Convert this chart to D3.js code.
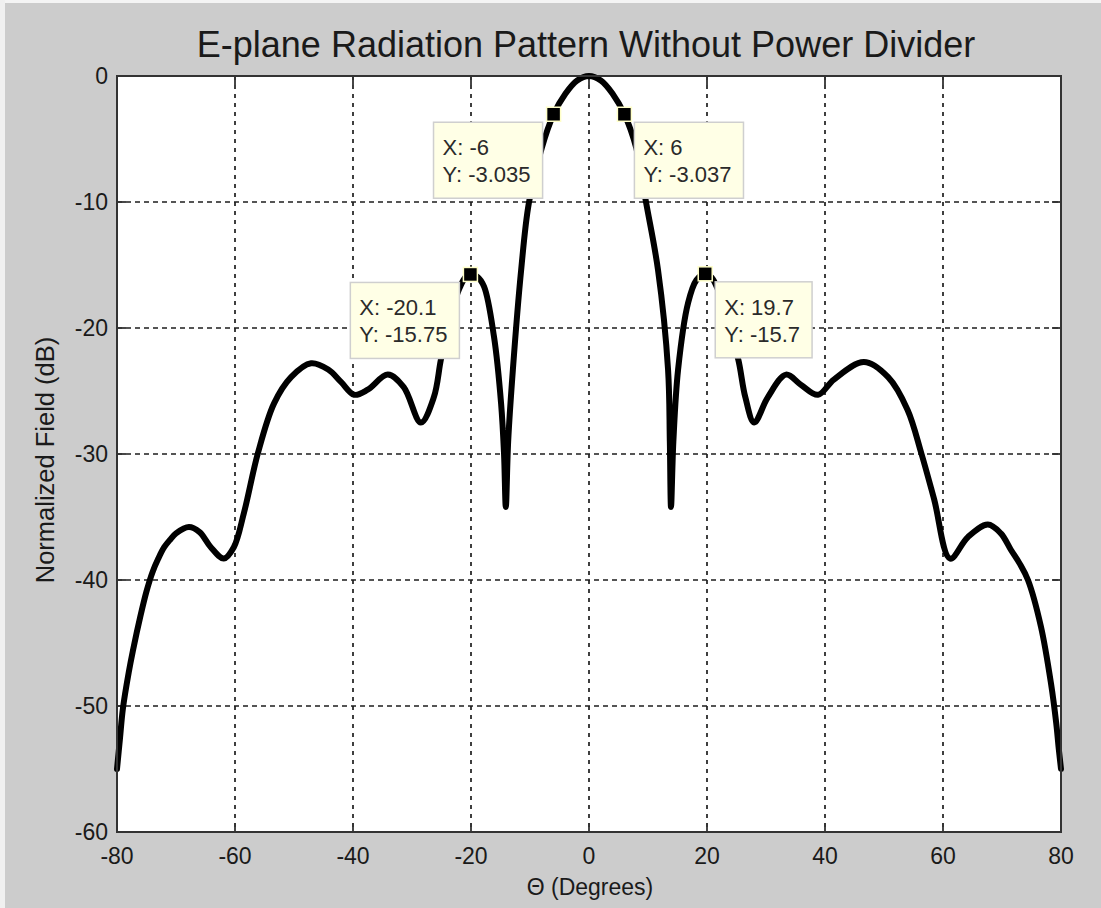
<!DOCTYPE html>
<html>
<head>
<meta charset="utf-8">
<script src="https://cdn.jsdelivr.net/npm/d3@7"></script>
<style>
  html, body { margin: 0; padding: 0; background: #cccccc; }
  svg { display: block; }
  text { font-family: Arial, "Liberation Sans", Helvetica, sans-serif; }
</style>
</head>
<body>
<svg id="chart" width="1101" height="908"></svg>
<script>
// E-plane pattern: angle (deg) and normalized field (dB)
const theta = [
  -80, -79.5, -79, -78, -77.3, -76, -75, -74, -73, -72, -71, -70, -67.8, -66, -64.1, -61.9, -60.2,
  -58.5, -56.1, -53.4, -50.5, -47.1, -44.2, -42, -39.8, -37.5, -34.1, -31.4,
  -28.5, -26.3, -25.1, -24, -23, -22, -21, -20.1, -19, -17.8, -16.1, -14.9,
  -14.4, -14.1, -13.7, -12.9, -11.5, -10.2, -8, -6, -4, -2, 0,
  2, 4, 6, 8, 9.7, 11.7, 13.4, 13.7, 13.9, 14.3, 15.1, 16.8, 18.2, 19.7,
  20.8, 21.8, 22.8, 23.8, 25.3, 26.5, 28, 30.3, 33.4, 35.9, 38.8, 41.5,
  46.6, 50.7, 54, 56.3, 58.5, 61.2, 64.2, 67.6, 69.8, 71.5, 73, 74.4, 76.6,
  78.3, 79.2, 79.6, 80
];
const fieldDb = [
  -55, -52.6, -50.2, -47.3, -45.6, -42.8, -40.9, -39.4, -38.3, -37.4, -36.8, -36.3, -35.8, -36.2, -37.4, -38.3, -37.4,
  -34.7, -29.9, -26, -23.9, -22.8, -23.3, -24.3, -25.3, -24.9, -23.7, -24.7,
  -27.5, -25.5, -22.5, -20.2, -18.3, -16.9, -16.0, -15.75, -15.9, -16.7, -20.7, -26,
  -30, -34.2, -29, -23.3, -15.4, -10.1, -5.7, -3.035, -1.4, -0.35, 0,
  -0.35, -1.4, -3.037, -5.7, -10.1, -15.4, -23.3, -29, -34.2, -29, -23.3, -18, -16.2, -15.7,
  -16.0, -16.9, -18.3, -20.2, -22.5, -25.5, -27.5, -25.5, -23.7, -24.5, -25.3, -24.1,
  -22.7, -23.9, -26.5, -29.9, -33.6, -38.3, -36.6, -35.6, -36.3, -37.6, -38.7, -40, -43.7,
  -48.2, -51.4, -53.3, -55
];

// Data tips
const tipX = [-6, 6, -20.1, 19.7];
const tipY = [-3.035, -3.037, -15.75, -15.7];
const tipSide = ["left", "right", "left", "right"];

// Axis ticks
const xTicks = [-80, -60, -40, -20, 0, 20, 40, 60, 80];
const yTicks = [0, -10, -20, -30, -40, -50, -60];

const titleText = "E-plane Radiation Pattern Without Power Divider";
const xLabel = "\u0398 (Degrees)";
const yLabel = "Normalized Field (dB)";

const svg = d3.select("#chart");
const W = 1101, H = 908;
const plot = { left: 117, right: 1061, top: 76, bottom: 832 };

// window edge highlight
svg.append("rect").attr("x", 0).attr("y", 0).attr("width", W).attr("height", H).attr("fill", "#cccccc");
svg.append("rect").attr("x", 0).attr("y", 0).attr("width", W).attr("height", 3).attr("fill", "#f4f4f4");
svg.append("rect").attr("x", 0).attr("y", 0).attr("width", 5).attr("height", H).attr("fill", "#f0f0f0");

const x = d3.scaleLinear().domain([-80, 80]).range([plot.left, plot.right]);
const y = d3.scaleLinear().domain([-60, 0]).range([plot.bottom, plot.top]);

// plot background
svg.append("rect")
  .attr("x", plot.left).attr("y", plot.top)
  .attr("width", plot.right - plot.left).attr("height", plot.bottom - plot.top)
  .attr("fill", "#ffffff");

// grid
const grid = svg.append("g");
grid.selectAll("line.vg").data(xTicks.slice(1, -1)).join("line")
  .attr("x1", d => x(d)).attr("x2", d => x(d))
  .attr("y1", plot.top).attr("y2", plot.bottom)
  .attr("stroke", "#1e1e1e").attr("stroke-width", 1.7).attr("stroke-dasharray", "4,5");
grid.selectAll("line.hg").data(yTicks.slice(1, -1)).join("line")
  .attr("y1", d => y(d)).attr("y2", d => y(d))
  .attr("x1", plot.left).attr("x2", plot.right)
  .attr("stroke", "#1e1e1e").attr("stroke-width", 1.7).attr("stroke-dasharray", "5,4");

// tick marks on all four sides (inward)
const tl = 9;
const ticks = svg.append("g").attr("stroke", "#333").attr("stroke-width", 1.8);
xTicks.forEach(t => {
  ticks.append("line").attr("x1", x(t)).attr("x2", x(t)).attr("y1", plot.bottom).attr("y2", plot.bottom - tl);
  ticks.append("line").attr("x1", x(t)).attr("x2", x(t)).attr("y1", plot.top).attr("y2", plot.top + tl);
});
yTicks.forEach(t => {
  ticks.append("line").attr("y1", y(t)).attr("y2", y(t)).attr("x1", plot.left).attr("x2", plot.left + tl);
  ticks.append("line").attr("y1", y(t)).attr("y2", y(t)).attr("x1", plot.right).attr("x2", plot.right - tl);
});

// curve
const line = d3.line()
  .x((d, i) => x(theta[i]))
  .y((d, i) => y(fieldDb[i]))
  .curve(d3.curveCatmullRom.alpha(0.5));
svg.append("path")
  .datum(theta)
  .attr("d", line)
  .attr("fill", "none")
  .attr("stroke", "#000")
  .attr("stroke-width", 6)
  .attr("stroke-linejoin", "round")
  .attr("stroke-linecap", "round");

// axes box
svg.append("rect")
  .attr("x", plot.left).attr("y", plot.top)
  .attr("width", plot.right - plot.left).attr("height", plot.bottom - plot.top)
  .attr("fill", "none").attr("stroke", "#333").attr("stroke-width", 2);

// tick labels
const lab = svg.append("g").attr("fill", "#1a1a1a").attr("font-size", 23);
xTicks.forEach(t => {
  lab.append("text").attr("x", x(t)).attr("y", 864).attr("text-anchor", "middle").text(t);
});
yTicks.forEach(t => {
  lab.append("text").attr("x", 108).attr("y", y(t)).attr("dy", "0.36em")
    .attr("text-anchor", "end").text(t);
});

// title and axis labels
svg.append("text").attr("x", 586).attr("y", 57).attr("text-anchor", "middle")
  .attr("font-size", 36).attr("fill", "#1a1a1a").text(titleText);
svg.append("text").attr("x", 590).attr("y", 895).attr("text-anchor", "middle")
  .attr("font-size", 23).attr("fill", "#1a1a1a").text(xLabel);
svg.append("text").attr("transform", "translate(54,460) rotate(-90)")
  .attr("text-anchor", "middle").attr("font-size", 25.5).attr("fill", "#1a1a1a").text(yLabel);

// data tips: marker + label box
tipX.forEach((tx, i) => {
  const px = x(tx), py = y(tipY[i]);
  const g = svg.append("g");
  const t1 = g.append("text").attr("font-size", 22).attr("fill", "#2a2a2a").text("X: " + tx);
  const t2 = g.append("text").attr("font-size", 22).attr("fill", "#2a2a2a").text("Y: " + tipY[i]);
  const w = Math.max(t1.node().getComputedTextLength(), t2.node().getComputedTextLength()) + 21;
  const h = 76;
  const bx = tipSide[i] === "left" ? px - 11 - w : px + 10;
  const by = py + 8;
  g.insert("rect", "text").attr("x", bx).attr("y", by).attr("width", w).attr("height", h)
    .attr("fill", "#ffffe6").attr("stroke", "#cfcfcf").attr("stroke-width", 1.5);
  t1.attr("x", bx + 9).attr("y", by + 33);
  t2.attr("x", bx + 9).attr("y", by + 60);
  svg.append("rect").attr("x", px - 7).attr("y", py - 7).attr("width", 14).attr("height", 14)
    .attr("fill", "#000").attr("stroke", "#ffffc8").attr("stroke-width", 1.5);
});
</script>
</body>
</html>
